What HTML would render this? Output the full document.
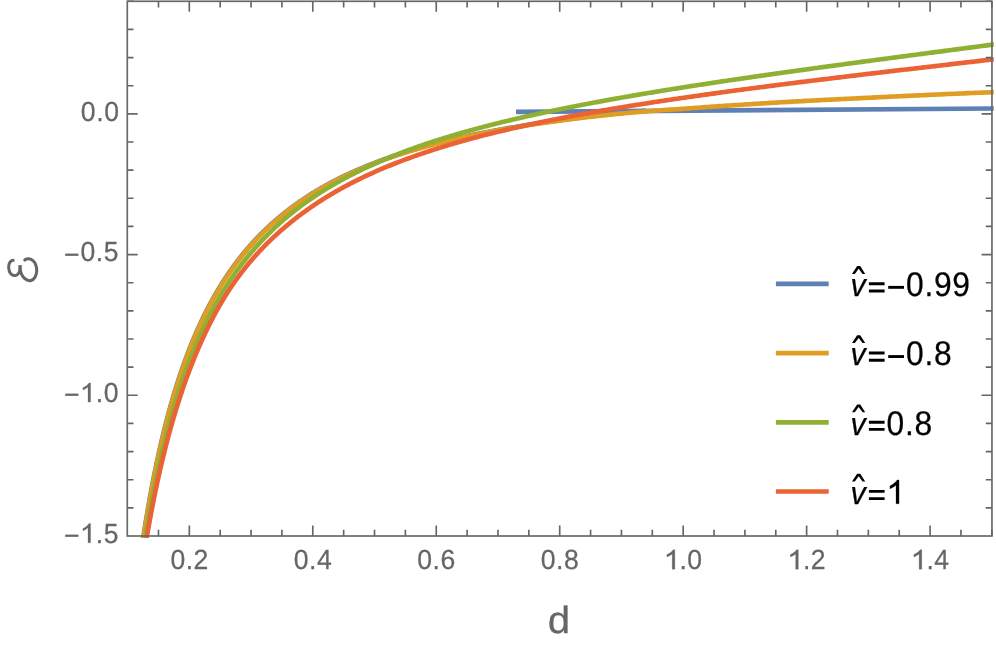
<!DOCTYPE html>
<html><head><meta charset="utf-8"><title>plot</title>
<style>
html,body{margin:0;padding:0;background:#fff;}
body{width:996px;height:648px;overflow:hidden;}
svg{display:block;}
text{font-family:"Liberation Sans",sans-serif;text-rendering:geometricPrecision;}
</style></head><body>
<svg width="996" height="648" viewBox="0 0 996 648">
<rect width="996" height="648" fill="#fff"/>
<clipPath id="cp"><rect x="100" y="-5" width="893.7" height="542.9"/></clipPath>
<g fill="none" stroke-width="4.65" stroke-linecap="butt" stroke-linejoin="round" clip-path="url(#cp)">
<path stroke="#5e81b5" d="M142.12,545.00 L142.34,543.55 L142.58,541.98 L142.81,540.41 L143.05,538.85 L143.29,537.30 L143.53,535.75 L143.77,534.21 L144.01,532.67 L144.25,531.13 L144.49,529.60 L144.73,528.08 L144.98,526.55 L145.22,525.04 L145.47,523.53 L145.71,522.02 L145.96,520.52 L146.21,519.02 L146.45,517.52 L146.70,516.03 L146.95,514.55 L147.20,513.07 L147.45,511.59 L147.70,510.12 L147.96,508.66 L148.21,507.20 L148.46,505.74 L148.72,504.29 L148.97,502.84 L149.23,501.39 L149.49,499.95 L149.74,498.52 L150.00,497.09 L150.26,495.66 L150.52,494.24 L150.78,492.82 L151.05,491.41 L151.31,490.00 L151.57,488.59 L151.84,487.19 L152.10,485.80 L152.37,484.40 L152.63,483.02 L152.90,481.63 L153.17,480.25 L153.44,478.88 L153.71,477.51 L153.98,476.14 L154.25,474.78 L154.53,473.42 L154.80,472.07 L155.07,470.72 L155.35,469.37 L155.62,468.03 L155.90,466.69 L156.18,465.36 L156.46,464.03 L156.74,462.71 L157.02,461.39 L157.30,460.07 L157.58,458.76 L157.86,457.45 L158.15,456.14 L158.43,454.84 L158.72,453.54 L159.00,452.25 L159.29,450.96 L159.58,449.68 L159.87,448.40 L160.16,447.12 L160.45,445.85 L160.74,444.58 L161.03,443.31 L161.32,442.05 L161.62,440.79 L161.91,439.54 L162.21,438.29 L162.51,437.04 L162.81,435.80 L163.10,434.56 L163.40,433.33 L163.70,432.10 L164.01,430.87 L164.31,429.65 L164.61,428.43 L164.92,427.21 L165.22,426.00 L165.53,424.79 L165.84,423.59 L166.14,422.39 L166.45,421.19 L166.76,420.00 L167.07,418.81 L167.39,417.62 L167.70,416.44 L168.01,415.26 L168.33,414.09 L168.64,412.92 L168.96,411.75 L169.28,410.59 L169.60,409.43 L169.92,408.27 L170.24,407.12 L170.56,405.97 L170.88,404.82 L171.20,403.68 L171.53,402.54 L171.86,401.40 L172.18,400.27 L172.51,399.14 L172.84,398.02 L173.17,396.90 L173.50,395.78 L173.83,394.66 L174.16,393.55 L174.50,392.44 L174.83,391.34 L175.17,390.24 L175.50,389.14 L175.84,388.05 L176.18,386.96 L176.52,385.87 L176.86,384.79 L177.20,383.71 L177.55,382.63 L177.89,381.55 L178.24,380.48 L178.58,379.42 L178.93,378.35 L179.28,377.29 L179.63,376.24 L179.98,375.18 L180.33,374.13 L180.68,373.08 L181.04,372.04 L181.39,371.00 L181.75,369.96 L182.10,368.93 L182.46,367.90 L182.82,366.87 L183.18,365.84 L183.54,364.82 L183.91,363.80 L184.27,362.79 L184.64,361.78 L185.00,360.77 L185.37,359.76 L185.74,358.76 L186.11,357.76 L186.48,356.76 L186.85,355.77 L187.22,354.78 L187.59,353.79 L187.97,352.81 L188.35,351.83 L188.72,350.85 L189.10,349.87 L189.48,348.90 L189.86,347.93 L190.24,346.97 L190.63,346.01 L191.01,345.05 L191.40,344.09 L191.78,343.14 L192.17,342.18 L192.56,341.24 L192.95,340.29 L193.34,339.35 L193.74,338.41 L194.13,337.48 L194.52,336.54 L194.92,335.61 L195.32,334.69 L195.72,333.76 L196.12,332.84 L196.52,331.92 L196.92,331.01 L197.33,330.09 L197.73,329.18 L198.14,328.28 L198.54,327.37 L198.95,326.47 L199.36,325.57 L199.77,324.68 L200.19,323.78 L200.60,322.89 L201.01,322.01 L201.43,321.12 L201.85,320.24 L202.27,319.36 L202.69,318.49 L203.11,317.61 L203.53,316.74 L203.96,315.87 L204.38,315.01 L204.81,314.15 L205.24,313.29 L205.66,312.43 L206.10,311.57 L206.53,310.72 L206.96,309.87 L207.40,309.03 L207.83,308.18 L208.27,307.34 L208.71,306.51 L209.15,305.67 L209.59,304.84 L210.03,304.01 L210.47,303.18 L210.92,302.35 L211.37,301.53 L211.82,300.71 L212.26,299.89 L212.72,299.08 L213.17,298.27 L213.62,297.46 L214.08,296.65 L214.53,295.85 L214.99,295.04 L215.45,294.24 L215.91,293.45 L216.37,292.65 L216.84,291.86 L217.30,291.07 L217.77,290.29 L218.24,289.50 L218.70,288.72 L219.18,287.94 L219.65,287.16 L220.12,286.39 L220.60,285.62 L221.07,284.85 L221.55,284.08 L222.03,283.32 L222.51,282.55 L222.99,281.79 L223.48,281.04 L223.96,280.28 L224.45,279.53 L224.94,278.78 L225.43,278.03 L225.92,277.29 L226.41,276.54 L226.91,275.80 L227.40,275.07 L227.90,274.33 L228.40,273.60 L228.90,272.87 L229.40,272.14 L229.90,271.41 L230.41,270.69 L230.92,269.96 L231.42,269.24 L231.93,268.53 L232.44,267.81 L232.96,267.10 L233.47,266.39 L233.99,265.68 L234.51,264.98 L235.02,264.27 L235.55,263.57 L236.07,262.87 L236.59,262.17 L237.12,261.48 L237.65,260.79 L238.17,260.10 L238.70,259.41 L239.24,258.72 L239.77,258.04 L240.31,257.36 L240.84,256.68 L241.38,256.00 L241.92,255.33 L242.46,254.66 L243.01,253.99 L243.55,253.32 L244.10,252.65 L244.65,251.99 L245.20,251.33 L245.75,250.67 L246.31,250.01 L246.86,249.35 L247.42,248.70 L247.98,248.05 L248.54,247.40 L249.10,246.75 L249.66,246.11 L250.23,245.46 L250.80,244.82 L251.37,244.19 L251.94,243.55 L252.51,242.91 L253.08,242.28 L253.66,241.65 L254.24,241.02 L254.82,240.40 L255.40,239.77 L255.98,239.15 L256.57,238.53 L257.16,237.91 L257.75,237.30 L258.34,236.68 L258.93,236.07 L259.52,235.46 L260.12,234.85 L260.72,234.24 L261.32,233.64 L261.92,233.04 L262.52,232.44 L263.13,231.84 L263.73,231.24 L264.34,230.65 L264.95,230.06 L265.57,229.47 L266.18,228.88 L266.80,228.29 L267.42,227.70 L268.04,227.12 L268.66,226.54 L269.28,225.96 L269.91,225.38 L270.54,224.81 L271.17,224.24 L271.80,223.66 L272.43,223.09 L273.07,222.53 L273.71,221.96 L274.35,221.40 L274.99,220.83 L275.63,220.27 L276.28,219.72 L276.93,219.16 L277.58,218.60 L278.23,218.05 L278.88,217.50 L279.54,216.95 L280.19,216.40 L280.85,215.86 L281.51,215.31 L282.18,214.77 L282.84,214.23 L283.51,213.69 L284.18,213.15 L284.85,212.62 L285.53,212.09 L286.20,211.55 L286.88,211.03 L287.56,210.50 L288.24,209.97 L288.93,209.45 L289.62,208.92 L290.30,208.40 L290.99,207.88 L291.69,207.37 L292.38,206.85 L293.08,206.34 L293.78,205.82 L294.48,205.31 L295.18,204.80 L295.89,204.30 L296.60,203.79 L297.31,203.29 L298.02,202.78 L298.73,202.28 L299.45,201.78 L300.17,201.29 L300.89,200.79 L301.61,200.30 L302.34,199.81 L303.07,199.32 L303.80,198.83 L304.53,198.34 L305.26,197.85 L306.00,197.37 L306.74,196.89 L307.48,196.41 L308.22,195.93 L308.97,195.45 L309.72,194.97 L310.47,194.50 L311.22,194.03 L311.98,193.56 L312.73,193.09 L313.49,192.62 L314.26,192.15 L315.02,191.69 L315.79,191.22 L316.56,190.76 L317.33,190.30 L318.10,189.84 L318.88,189.39 L319.66,188.93 L320.44,188.48 L321.22,188.02 L322.01,187.57 L322.79,187.12 L323.58,186.68 L324.38,186.23 L325.17,185.78 L325.97,185.34 L326.77,184.90 L327.57,184.46 L328.38,184.02 L329.19,183.58 L330.00,183.15 L330.81,182.71 L331.62,182.28 L332.44,181.85 L333.26,181.42 L334.09,180.99 L334.91,180.56 L335.74,180.14 L336.57,179.71 L337.40,179.29 L338.24,178.87 L339.08,178.45 L339.92,178.03 L340.76,177.62 L341.61,177.20 L342.45,176.79 L343.30,176.38 L344.16,175.96 L345.01,175.55 L345.87,175.15 L346.73,174.74 L347.60,174.33 L348.47,173.93 L349.34,173.53 L350.21,173.13 L351.08,172.73 L351.96,172.33 L352.84,171.93 L353.72,171.54 L354.61,171.14 L355.50,170.75 L356.39,170.36 L357.28,169.97 L358.18,169.58 L359.08,169.19 L359.98,168.81 L360.88,168.42 L361.79,168.04 L362.70,167.66 L363.62,167.27 L364.53,166.90 L365.45,166.52 L366.37,166.14 L367.30,165.77 L368.22,165.39 L369.16,165.02 L370.09,164.65 L371.02,164.28 L371.96,163.91 L372.90,163.54 L373.85,163.17 L374.80,162.81 L375.75,162.45 L376.70,162.08 L377.66,161.72 L378.62,161.36 L379.58,161.00 L380.54,160.65 L381.51,160.29 L382.48,159.94 L383.46,159.58 L384.43,159.23 L385.41,158.88 L386.40,158.53 L387.38,158.18 L388.37,157.84 L389.36,157.49 L390.36,157.14 L391.36,156.80 L392.36,156.46 L393.36,156.12 L394.37,155.78 L395.38,155.44 L396.39,155.10 L397.41,154.77 L398.43,154.43 L399.45,154.10 L400.48,153.76 L401.51,153.43 L402.54,153.10 L403.58,152.77 L404.62,152.45 L405.66,152.12 L406.70,151.79 L407.75,151.47 L408.80,151.15 L409.86,150.83 L410.92,150.51 L411.98,150.19 L413.04,149.87 L414.11,149.55 L415.18,149.23 L416.26,148.92 L417.34,148.61 L418.42,148.29 L419.50,147.98 L420.59,147.67 L421.68,147.36 L422.77,147.05 L423.87,146.75 L424.97,146.44 L426.08,146.14 L427.19,145.83 L428.30,145.53 L429.41,145.23 L430.53,144.93 L431.65,144.63 L432.78,144.33 L433.91,144.04 L435.04,143.74 L436.17,143.44 L437.31,143.15 L438.46,142.86 L439.60,142.57 L440.75,142.28 L441.90,141.99 L443.06,141.70 L444.22,141.41 L445.39,141.13 L446.55,140.84 L447.72,140.56 L448.90,140.27 L450.08,139.99 L451.26,139.71 L452.44,139.43 L453.63,139.15 L454.83,138.88 L456.02,138.60 L457.22,138.32 L458.43,138.05 L459.63,137.78 L460.84,137.50 L462.06,137.23 L463.28,136.96 L464.50,136.69 L465.73,136.42 L466.96,136.16 L468.19,135.89 L469.43,135.63 L470.67,135.36 L471.91,135.10 L473.16,134.84 L474.42,134.58 L475.67,134.32 L476.93,134.06 L478.20,133.80 L479.46,133.54 L480.74,133.28 L482.01,133.03 L483.29,132.77 L484.58,132.52 L485.86,132.27 L487.16,132.02 L488.45,131.77 L489.75,131.52 L491.06,131.27 L492.36,131.02 L493.68,130.78 L494.99,130.53 L496.31,130.29 L497.63,130.04 L498.96,129.80 L500.29,129.56 L501.63,129.32 L502.97,129.08 L504.32,128.84 L505.66,128.60 L507.02,128.36 L508.37,128.13 L509.73,127.89 L511.10,127.66 L512.47,127.42 L513.84,127.19 L515.22,126.96 L516.60,126.73 L517.99,126.50 L519.38,126.27 L520.77,126.04 L522.17,125.81 L523.58,125.59 L524.98,125.36 L526.40,125.14 L527.81,124.92 L529.23,124.69 L530.66,124.47 L532.09,124.25 L533.52,124.03 L534.96,123.81 L536.40,123.59 L537.85,123.38 L539.30,123.16 L540.76,122.94 L542.22,122.73 L543.68,122.52 L545.15,122.30 L546.63,122.09 L548.10,121.88 L549.59,121.67 L551.08,121.46 L552.57,121.25 L554.06,121.04 L555.57,120.84 L557.07,120.63 L558.58,120.42 L560.10,120.22 L561.62,120.02 L563.14,119.81 L564.67,119.61 L566.21,119.41 L567.74,119.21 L569.29,119.01 L570.84,118.81 L572.39,118.61 L573.95,118.42 L575.51,118.22 L577.08,118.02 L578.65,117.83 L580.23,117.64 L581.81,117.44 L583.39,117.25 L584.99,117.06 L586.58,116.87 L588.18,116.68 L589.79,116.49 L591.40,116.30 L593.02,116.11 L594.64,115.93 L596.26,115.74 L597.90,115.55 L599.53,115.37 L601.17,115.19 L602.82,115.00 L604.47,114.82 L606.13,114.64 L607.79,114.46 L609.45,114.28 L611.13,114.10 L612.80,113.92 L614.48,113.74 L616.17,113.57 L617.86,113.39 L619.56,113.22 L621.26,113.04 L622.97,112.87 L624.69,112.69 L626.40,112.52 L628.13,112.35 L629.86,112.18 L631.59,112.01 L633.33,111.84 L635.08,111.67 L636.83,111.50 L638.58,111.33 L640.34,111.17 L642.11,111.00 L643.88,110.84 L645.66,110.67"/>
<path stroke="#5e81b5" d="M516,111.9 L996,108.48"/>
<path stroke="#e19c24" d="M142.47,545.00 L142.70,543.44 L142.99,541.53 L143.28,539.63 L143.57,537.73 L143.86,535.84 L144.15,533.96 L144.45,532.08 L144.74,530.22 L145.04,528.35 L145.33,526.50 L145.63,524.65 L145.93,522.81 L146.23,520.97 L146.53,519.15 L146.84,517.33 L147.14,515.51 L147.44,513.71 L147.75,511.90 L148.06,510.11 L148.37,508.32 L148.67,506.54 L148.99,504.77 L149.30,503.00 L149.61,501.24 L149.92,499.49 L150.24,497.74 L150.56,496.00 L150.87,494.27 L151.19,492.54 L151.51,490.82 L151.83,489.10 L152.16,487.39 L152.48,485.69 L152.80,484.00 L153.13,482.31 L153.46,480.62 L153.79,478.95 L154.12,477.28 L154.45,475.61 L154.78,473.95 L155.11,472.30 L155.45,470.66 L155.78,469.02 L156.12,467.38 L156.46,465.75 L156.80,464.13 L157.14,462.52 L157.48,460.91 L157.83,459.31 L158.17,457.71 L158.52,456.12 L158.86,454.53 L159.21,452.95 L159.56,451.38 L159.91,449.81 L160.27,448.25 L160.62,446.70 L160.98,445.15 L161.33,443.60 L161.69,442.06 L162.05,440.53 L162.41,439.01 L162.77,437.48 L163.14,435.97 L163.50,434.46 L163.87,432.96 L164.24,431.46 L164.60,429.97 L164.97,428.48 L165.35,427.00 L165.72,425.52 L166.09,424.05 L166.47,422.59 L166.85,421.13 L167.23,419.67 L167.61,418.23 L167.99,416.78 L168.37,415.35 L168.76,413.91 L169.14,412.49 L169.53,411.07 L169.92,409.65 L170.31,408.24 L170.70,406.84 L171.09,405.44 L171.49,404.04 L171.88,402.65 L172.28,401.27 L172.68,399.89 L173.08,398.52 L173.48,397.15 L173.89,395.78 L174.29,394.43 L174.70,393.07 L175.11,391.72 L175.52,390.38 L175.93,389.04 L176.34,387.71 L176.75,386.38 L177.17,385.06 L177.59,383.74 L178.01,382.43 L178.43,381.12 L178.85,379.82 L179.27,378.52 L179.70,377.23 L180.12,375.94 L180.55,374.66 L180.98,373.38 L181.42,372.11 L181.85,370.84 L182.28,369.58 L182.72,368.32 L183.16,367.06 L183.60,365.82 L184.04,364.57 L184.48,363.33 L184.93,362.10 L185.37,360.87 L185.82,359.64 L186.27,358.42 L186.72,357.20 L187.18,355.99 L187.63,354.78 L188.09,353.58 L188.55,352.38 L189.01,351.19 L189.47,350.00 L189.93,348.82 L190.40,347.64 L190.87,346.46 L191.33,345.29 L191.80,344.12 L192.28,342.96 L192.75,341.80 L193.23,340.65 L193.70,339.50 L194.18,338.36 L194.67,337.22 L195.15,336.08 L195.63,334.95 L196.12,333.82 L196.61,332.70 L197.10,331.58 L197.59,330.47 L198.09,329.36 L198.58,328.25 L199.08,327.15 L199.58,326.06 L200.08,324.96 L200.58,323.87 L201.09,322.79 L201.60,321.71 L202.10,320.63 L202.62,319.56 L203.13,318.49 L203.64,317.43 L204.16,316.37 L204.68,315.31 L205.20,314.26 L205.72,313.21 L206.25,312.17 L206.77,311.13 L207.30,310.10 L207.83,309.06 L208.36,308.04 L208.90,307.01 L209.43,305.99 L209.97,304.98 L210.51,303.96 L211.06,302.96 L211.60,301.95 L212.15,300.95 L212.70,299.96 L213.25,298.96 L213.80,297.97 L214.35,296.99 L214.91,296.01 L215.47,295.03 L216.03,294.06 L216.59,293.09 L217.16,292.12 L217.73,291.16 L218.30,290.20 L218.87,289.25 L219.44,288.29 L220.02,287.35 L220.60,286.40 L221.18,285.46 L221.76,284.53 L222.34,283.59 L222.93,282.66 L223.52,281.74 L224.11,280.82 L224.70,279.90 L225.30,278.98 L225.90,278.07 L226.50,277.16 L227.10,276.26 L227.71,275.36 L228.31,274.46 L228.92,273.57 L229.53,272.68 L230.15,271.79 L230.76,270.91 L231.38,270.03 L232.00,269.15 L232.63,268.28 L233.25,267.41 L233.88,266.54 L234.51,265.68 L235.14,264.82 L235.78,263.96 L236.41,263.11 L237.05,262.26 L237.70,261.42 L238.34,260.57 L238.99,259.73 L239.64,258.90 L240.29,258.06 L240.94,257.23 L241.60,256.41 L242.26,255.58 L242.92,254.76 L243.58,253.95 L244.25,253.13 L244.92,252.32 L245.59,251.52 L246.26,250.71 L246.94,249.91 L247.62,249.11 L248.30,248.32 L248.99,247.53 L249.67,246.74 L250.36,245.96 L251.05,245.17 L251.75,244.39 L252.45,243.62 L253.15,242.85 L253.85,242.08 L254.55,241.31 L255.26,240.55 L255.97,239.78 L256.68,239.03 L257.40,238.27 L258.12,237.52 L258.84,236.77 L259.56,236.03 L260.29,235.28 L261.02,234.54 L261.75,233.81 L262.48,233.07 L263.22,232.34 L263.96,231.61 L264.70,230.89 L265.45,230.17 L266.20,229.45 L266.95,228.73 L267.70,228.02 L268.46,227.31 L269.22,226.60 L269.98,225.89 L270.75,225.19 L271.52,224.49 L272.29,223.79 L273.06,223.10 L273.84,222.41 L274.62,221.72 L275.40,221.03 L276.19,220.35 L276.98,219.67 L277.77,218.99 L278.56,218.32 L279.36,217.65 L280.16,216.98 L280.97,216.31 L281.77,215.65 L282.58,214.99 L283.40,214.33 L284.21,213.67 L285.03,213.02 L285.85,212.37 L286.68,211.72 L287.51,211.07 L288.34,210.43 L289.17,209.79 L290.01,209.15 L290.85,208.52 L291.69,207.88 L292.54,207.25 L293.39,206.63 L294.24,206.00 L295.10,205.38 L295.96,204.76 L296.82,204.14 L297.69,203.53 L298.56,202.92 L299.43,202.31 L300.31,201.70 L301.19,201.09 L302.07,200.49 L302.96,199.89 L303.84,199.30 L304.74,198.70 L305.63,198.11 L306.53,197.52 L307.44,196.93 L308.34,196.34 L309.25,195.76 L310.16,195.18 L311.08,194.60 L312.00,194.03 L312.92,193.45 L313.85,192.88 L314.78,192.31 L315.71,191.75 L316.65,191.18 L317.59,190.62 L318.53,190.06 L319.48,189.51 L320.43,188.95 L321.39,188.40 L322.35,187.85 L323.31,187.30 L324.27,186.76 L325.24,186.21 L326.22,185.67 L327.19,185.13 L328.17,184.60 L329.16,184.06 L330.14,183.53 L331.13,183.00 L332.13,182.47 L333.13,181.95 L334.13,181.42 L335.14,180.90 L336.15,180.38 L337.16,179.87 L338.18,179.35 L339.20,178.84 L340.22,178.33 L341.25,177.82 L342.29,177.32 L343.32,176.81 L344.36,176.31 L345.41,175.81 L346.46,175.31 L347.51,174.82 L348.56,174.32 L349.62,173.83 L350.69,173.34 L351.76,172.86 L352.83,172.37 L353.91,171.89 L354.99,171.41 L356.07,170.93 L357.16,170.45 L358.25,169.98 L359.35,169.50 L360.45,169.03 L361.55,168.56 L362.66,168.10 L363.78,167.63 L364.89,167.17 L366.01,166.71 L367.14,166.25 L368.27,165.79 L369.40,165.34 L370.54,164.89 L371.69,164.44 L372.83,163.99 L373.98,163.54 L375.14,163.09 L376.30,162.65 L377.46,162.21 L378.63,161.77 L379.81,161.33 L380.98,160.90 L382.16,160.46 L383.35,160.03 L384.54,159.60 L385.74,159.17 L386.94,158.75 L388.14,158.32 L389.35,157.90 L390.56,157.48 L391.78,157.06 L393.00,156.64 L394.23,156.23 L395.46,155.81 L396.70,155.40 L397.94,154.99 L399.18,154.58 L400.43,154.18 L401.69,153.77 L402.95,153.37 L404.21,152.97 L405.48,152.57 L406.75,152.17 L408.03,151.78 L409.32,151.38 L410.60,150.99 L411.90,150.60 L413.20,150.21 L414.50,149.82 L415.81,149.44 L417.12,149.06 L418.44,148.67 L419.76,148.29 L421.09,147.92 L422.42,147.54 L423.75,147.16 L425.10,146.79 L426.44,146.42 L427.80,146.05 L429.15,145.68 L430.52,145.31 L431.88,144.95 L433.26,144.58 L434.63,144.22 L436.02,143.86 L437.41,143.50 L438.80,143.15 L440.20,142.79 L441.60,142.44 L443.01,142.09 L444.43,141.74 L445.85,141.39 L447.27,141.04 L448.70,140.69 L450.14,140.35 L451.58,140.01 L453.02,139.67 L454.48,139.33 L455.93,138.99 L457.40,138.65 L458.87,138.32 L460.34,137.98 L461.82,137.65 L463.30,137.32 L464.79,136.99 L466.29,136.67 L467.79,136.34 L469.30,136.02 L470.81,135.69 L472.33,135.37 L473.86,135.05 L475.39,134.74 L476.92,134.42 L478.46,134.10 L480.01,133.79 L481.57,133.48 L483.12,133.17 L484.69,132.86 L486.26,132.55 L487.84,132.24 L489.42,131.94 L491.01,131.64 L492.60,131.33 L494.20,131.03 L495.81,130.73 L497.42,130.44 L499.04,130.14 L500.66,129.84 L502.30,129.55 L503.93,129.26 L505.58,128.97 L507.22,128.68 L508.88,128.39 L510.54,128.10 L512.21,127.82 L513.88,127.53 L515.56,127.25 L517.25,126.97 L518.94,126.69 L520.64,126.41 L522.35,126.13 L524.06,125.86 L525.78,125.58 L527.50,125.31 L529.23,125.04 L530.97,124.77 L532.72,124.50 L534.47,124.23 L536.23,123.96 L537.99,123.70 L539.76,123.44 L541.54,123.17 L543.32,122.91 L545.11,122.65 L546.91,122.39 L548.71,122.14 L550.52,121.89 L552.34,121.66 L554.17,121.44 L556.00,121.21 L557.84,120.98 L559.68,120.74 L561.53,120.49 L563.39,120.24 L565.26,119.99 L567.13,119.74 L569.01,119.49 L570.90,119.25 L572.79,119.00 L574.69,118.75 L576.60,118.50 L578.52,118.26 L580.44,118.01 L582.37,117.77 L584.31,117.53 L586.25,117.30 L588.20,117.06 L590.16,116.83 L592.13,116.60 L594.10,116.38 L596.08,116.16 L598.07,115.94 L600.07,115.72 L602.07,115.51 L604.08,115.30 L606.10,115.08 L608.13,114.87 L610.16,114.67 L612.20,114.46 L614.25,114.26 L616.31,114.06 L618.37,113.86 L620.45,113.66 L622.53,113.45 L624.61,113.25 L626.71,113.05 L628.81,112.86 L630.92,112.66 L633.04,112.46 L635.17,112.27 L637.31,112.09 L639.45,111.90 L641.60,111.73 L643.76,111.55 L645.93,111.38 L648.10,111.21 L650.29,111.04 L652.48,110.87 L654.68,110.71 L656.89,110.54 L659.10,110.37 L661.33,110.20 L663.56,110.04 L665.80,109.88 L668.05,109.73 L670.31,109.59 L672.58,109.45 L674.85,109.33 L677.14,109.20 L679.43,109.06 L681.73,108.91 L684.04,108.75 L686.36,108.57 L688.69,108.40 L691.02,108.22 L693.37,108.05 L695.72,107.88 L698.08,107.71 L700.46,107.54 L702.84,107.37 L705.22,107.19 L707.62,107.03 L710.03,106.86 L712.45,106.69 L714.87,106.52 L717.30,106.35 L719.75,106.18 L722.20,106.02 L724.66,105.85 L727.13,105.69 L729.61,105.52 L732.10,105.36 L734.60,105.19 L737.11,105.03 L739.63,104.87 L742.15,104.70 L744.69,104.54 L747.24,104.38 L749.79,104.21 L752.36,104.05 L754.93,103.89 L757.52,103.73 L760.11,103.57 L762.71,103.40 L765.33,103.24 L767.95,103.08 L770.58,102.92 L773.23,102.77 L775.88,102.61 L778.54,102.45 L781.21,102.29 L783.90,102.14 L786.59,101.98 L789.29,101.83 L792.01,101.67 L794.73,101.52 L797.46,101.37 L800.21,101.22 L802.96,101.07 L805.73,100.92 L808.50,100.77 L811.29,100.62 L814.08,100.47 L816.89,100.33 L819.71,100.18 L822.53,100.03 L825.37,99.89 L828.22,99.74 L831.08,99.60 L833.95,99.45 L836.83,99.31 L839.72,99.17 L842.62,99.02 L845.54,98.88 L848.46,98.74 L851.40,98.59 L854.34,98.45 L857.30,98.31 L860.27,98.16 L863.25,98.02 L866.24,97.88 L869.24,97.73 L872.25,97.58 L875.28,97.44 L878.31,97.29 L881.36,97.14 L884.42,96.99 L887.49,96.84 L890.57,96.69 L893.66,96.54 L896.77,96.39 L899.88,96.24 L903.01,96.09 L906.15,95.94 L909.30,95.79 L912.47,95.65 L915.64,95.50 L918.83,95.35 L922.03,95.21 L925.24,95.06 L928.46,94.92 L931.70,94.77 L934.94,94.63 L938.20,94.48 L941.48,94.34 L944.76,94.19 L948.06,94.05 L951.36,93.90 L954.69,93.76 L958.02,93.62 L961.37,93.47 L964.72,93.33 L968.10,93.19 L971.48,93.04 L974.88,92.90 L978.28,92.76 L981.71,92.62 L985.14,92.48 L988.59,92.34 L992.05,92.20 L995.52,92.06"/>
<path stroke="#8fb032" d="M144.24,545.00 L144.45,543.66 L144.74,541.80 L145.04,539.95 L145.33,538.10 L145.63,536.27 L145.93,534.43 L146.23,532.61 L146.53,530.79 L146.84,528.97 L147.14,527.16 L147.44,525.36 L147.75,523.57 L148.06,521.78 L148.37,520.00 L148.67,518.22 L148.99,516.46 L149.30,514.69 L149.61,512.94 L149.92,511.19 L150.24,509.44 L150.56,507.70 L150.87,505.97 L151.19,504.25 L151.51,502.53 L151.83,500.81 L152.16,499.11 L152.48,497.41 L152.80,495.71 L153.13,494.02 L153.46,492.34 L153.79,490.66 L154.12,488.99 L154.45,487.32 L154.78,485.66 L155.11,484.01 L155.45,482.36 L155.78,480.72 L156.12,479.09 L156.46,477.46 L156.80,475.83 L157.14,474.21 L157.48,472.60 L157.83,470.99 L158.17,469.39 L158.52,467.80 L158.86,466.21 L159.21,464.62 L159.56,463.05 L159.91,461.47 L160.27,459.91 L160.62,458.34 L160.98,456.79 L161.33,455.24 L161.69,453.69 L162.05,452.15 L162.41,450.62 L162.77,449.09 L163.14,447.57 L163.50,446.05 L163.87,444.54 L164.24,443.03 L164.60,441.53 L164.97,440.04 L165.35,438.55 L165.72,437.06 L166.09,435.58 L166.47,434.11 L166.85,432.64 L167.23,431.17 L167.61,429.71 L167.99,428.26 L168.37,426.81 L168.76,425.37 L169.14,423.93 L169.53,422.50 L169.92,421.07 L170.31,419.65 L170.70,418.23 L171.09,416.82 L171.49,415.41 L171.88,414.01 L172.28,412.61 L172.68,411.22 L173.08,409.83 L173.48,408.45 L173.89,407.07 L174.29,405.70 L174.70,404.33 L175.11,402.97 L175.52,401.61 L175.93,400.26 L176.34,398.91 L176.75,397.57 L177.17,396.23 L177.59,394.90 L178.01,393.57 L178.43,392.24 L178.85,390.92 L179.27,389.61 L179.70,388.30 L180.12,386.99 L180.55,385.69 L180.98,384.40 L181.42,383.11 L181.85,381.82 L182.28,380.54 L182.72,379.26 L183.16,377.99 L183.60,376.72 L184.04,375.46 L184.48,374.20 L184.93,372.95 L185.37,371.70 L185.82,370.45 L186.27,369.21 L186.72,367.97 L187.18,366.74 L187.63,365.51 L188.09,364.29 L188.55,363.07 L189.01,361.86 L189.47,360.65 L189.93,359.44 L190.40,358.24 L190.87,357.04 L191.33,355.85 L191.80,354.66 L192.28,353.48 L192.75,352.30 L193.23,351.12 L193.70,349.95 L194.18,348.79 L194.67,347.62 L195.15,346.46 L195.63,345.31 L196.12,344.16 L196.61,343.01 L197.10,341.87 L197.59,340.73 L198.09,339.60 L198.58,338.47 L199.08,337.34 L199.58,336.22 L200.08,335.11 L200.58,333.99 L201.09,332.88 L201.60,331.78 L202.10,330.68 L202.62,329.58 L203.13,328.48 L203.64,327.39 L204.16,326.31 L204.68,325.23 L205.20,324.15 L205.72,323.08 L206.25,322.00 L206.77,320.94 L207.30,319.88 L207.83,318.82 L208.36,317.76 L208.90,316.71 L209.43,315.66 L209.97,314.62 L210.51,313.58 L211.06,312.55 L211.60,311.51 L212.15,310.48 L212.70,309.46 L213.25,308.44 L213.80,307.42 L214.35,306.41 L214.91,305.40 L215.47,304.39 L216.03,303.39 L216.59,302.39 L217.16,301.39 L217.73,300.40 L218.30,299.41 L218.87,298.43 L219.44,297.45 L220.02,296.47 L220.60,295.49 L221.18,294.52 L221.76,293.56 L222.34,292.59 L222.93,291.63 L223.52,290.67 L224.11,289.72 L224.70,288.77 L225.30,287.82 L225.90,286.88 L226.50,285.94 L227.10,285.01 L227.71,284.07 L228.31,283.14 L228.92,282.22 L229.53,281.29 L230.15,280.37 L230.76,279.46 L231.38,278.54 L232.00,277.63 L232.63,276.73 L233.25,275.82 L233.88,274.92 L234.51,274.03 L235.14,273.13 L235.78,272.24 L236.41,271.36 L237.05,270.47 L237.70,269.59 L238.34,268.71 L238.99,267.84 L239.64,266.97 L240.29,266.10 L240.94,265.23 L241.60,264.37 L242.26,263.51 L242.92,262.66 L243.58,261.80 L244.25,260.95 L244.92,260.11 L245.59,259.26 L246.26,258.42 L246.94,257.58 L247.62,256.75 L248.30,255.92 L248.99,255.09 L249.67,254.26 L250.36,253.44 L251.05,252.62 L251.75,251.80 L252.45,250.99 L253.15,250.18 L253.85,249.37 L254.55,248.56 L255.26,247.76 L255.97,246.96 L256.68,246.17 L257.40,245.37 L258.12,244.58 L258.84,243.79 L259.56,243.01 L260.29,242.22 L261.02,241.44 L261.75,240.67 L262.48,239.89 L263.22,239.12 L263.96,238.35 L264.70,237.59 L265.45,236.82 L266.20,236.06 L266.95,235.30 L267.70,234.55 L268.46,233.80 L269.22,233.05 L269.98,232.30 L270.75,231.55 L271.52,230.81 L272.29,230.07 L273.06,229.33 L273.84,228.60 L274.62,227.87 L275.40,227.14 L276.19,226.41 L276.98,225.69 L277.77,224.97 L278.56,224.25 L279.36,223.53 L280.16,222.82 L280.97,222.11 L281.77,221.40 L282.58,220.69 L283.40,219.99 L284.21,219.29 L285.03,218.59 L285.85,217.89 L286.68,217.20 L287.51,216.51 L288.34,215.82 L289.17,215.13 L290.01,214.45 L290.85,213.76 L291.69,213.08 L292.54,212.41 L293.39,211.73 L294.24,211.06 L295.10,210.39 L295.96,209.72 L296.82,209.06 L297.69,208.39 L298.56,207.73 L299.43,207.07 L300.31,206.42 L301.19,205.76 L302.07,205.11 L302.96,204.46 L303.84,203.81 L304.74,203.17 L305.63,202.53 L306.53,201.89 L307.44,201.25 L308.34,200.61 L309.25,199.98 L310.16,199.35 L311.08,198.72 L312.00,198.09 L312.92,197.46 L313.85,196.84 L314.78,196.22 L315.71,195.60 L316.65,194.98 L317.59,194.37 L318.53,193.76 L319.48,193.14 L320.43,192.54 L321.39,191.93 L322.35,191.33 L323.31,190.72 L324.27,190.12 L325.24,189.52 L326.22,188.93 L327.19,188.33 L328.17,187.74 L329.16,187.15 L330.14,186.56 L331.13,185.98 L332.13,185.39 L333.13,184.81 L334.13,184.23 L335.14,183.65 L336.15,183.07 L337.16,182.50 L338.18,181.93 L339.20,181.36 L340.22,180.79 L341.25,180.22 L342.29,179.65 L343.32,179.09 L344.36,178.53 L345.41,177.97 L346.46,177.41 L347.51,176.86 L348.56,176.30 L349.62,175.75 L350.69,175.20 L351.76,174.65 L352.83,174.10 L353.91,173.56 L354.99,173.02 L356.07,172.47 L357.16,171.93 L358.25,171.40 L359.35,170.86 L360.45,170.32 L361.55,169.79 L362.66,169.26 L363.78,168.73 L364.89,168.20 L366.01,167.68 L367.14,167.15 L368.27,166.63 L369.40,166.11 L370.54,165.59 L371.69,165.07 L372.83,164.55 L373.98,164.04 L375.14,163.53 L376.30,163.02 L377.46,162.51 L378.63,162.00 L379.81,161.49 L380.98,160.99 L382.16,160.48 L383.35,159.98 L384.54,159.48 L385.74,158.98 L386.94,158.48 L388.14,157.99 L389.35,157.49 L390.56,157.00 L391.78,156.51 L393.00,156.02 L394.23,155.53 L395.46,155.04 L396.70,154.56 L397.94,154.08 L399.18,153.59 L400.43,153.11 L401.69,152.63 L402.95,152.15 L404.21,151.68 L405.48,151.20 L406.75,150.73 L408.03,150.26 L409.32,149.78 L410.60,149.31 L411.90,148.85 L413.20,148.38 L414.50,147.91 L415.81,147.45 L417.12,146.99 L418.44,146.52 L419.76,146.06 L421.09,145.60 L422.42,145.15 L423.75,144.69 L425.10,144.23 L426.44,143.78 L427.80,143.33 L429.15,142.88 L430.52,142.42 L431.88,141.98 L433.26,141.53 L434.63,141.08 L436.02,140.64 L437.41,140.19 L438.80,139.75 L440.20,139.31 L441.60,138.87 L443.01,138.43 L444.43,137.99 L445.85,137.55 L447.27,137.11 L448.70,136.68 L450.14,136.25 L451.58,135.81 L453.02,135.38 L454.48,134.95 L455.93,134.52 L457.40,134.09 L458.87,133.67 L460.34,133.24 L461.82,132.82 L463.30,132.39 L464.79,131.97 L466.29,131.55 L467.79,131.13 L469.30,130.71 L470.81,130.29 L472.33,129.87 L473.86,129.45 L475.39,129.04 L476.92,128.62 L478.46,128.21 L480.01,127.79 L481.57,127.38 L483.12,126.97 L484.69,126.56 L486.26,126.15 L487.84,125.74 L489.42,125.34 L491.01,124.93 L492.60,124.52 L494.20,124.12 L495.81,123.71 L497.42,123.31 L499.04,122.91 L500.66,122.51 L502.30,122.11 L503.93,121.71 L505.58,121.31 L507.22,120.91 L508.88,120.51 L510.54,120.12 L512.21,119.72 L513.88,119.33 L515.56,118.93 L517.25,118.54 L518.94,118.15 L520.64,117.75 L522.35,117.36 L524.06,116.97 L525.78,116.58 L527.50,116.19 L529.23,115.81 L530.97,115.42 L532.72,115.03 L534.47,114.65 L536.23,114.26 L537.99,113.87 L539.76,113.49 L541.54,113.11 L543.32,112.72 L545.11,112.34 L546.91,111.96 L548.71,111.58 L550.52,111.20 L552.34,110.82 L554.17,110.44 L556.00,110.06 L557.84,109.68 L559.68,109.30 L561.53,108.93 L563.39,108.55 L565.26,108.17 L567.13,107.80 L569.01,107.42 L570.90,107.05 L572.79,106.67 L574.69,106.30 L576.60,105.92 L578.52,105.55 L580.44,105.18 L582.37,104.81 L584.31,104.44 L586.25,104.06 L588.20,103.69 L590.16,103.32 L592.13,102.95 L594.10,102.58 L596.08,102.21 L598.07,101.84 L600.07,101.48 L602.07,101.11 L604.08,100.74 L606.10,100.37 L608.13,100.00 L610.16,99.64 L612.20,99.27 L614.25,98.90 L616.31,98.54 L618.37,98.17 L620.45,97.80 L622.53,97.44 L624.61,97.07 L626.71,96.71 L628.81,96.34 L630.92,95.98 L633.04,95.61 L635.17,95.25 L637.31,94.89 L639.45,94.52 L641.60,94.16 L643.76,93.79 L645.93,93.43 L648.10,93.07 L650.29,92.70 L652.48,92.34 L654.68,91.97 L656.89,91.61 L659.10,91.25 L661.33,90.88 L663.56,90.52 L665.80,90.16 L668.05,89.79 L670.31,89.43 L672.58,89.07 L674.85,88.70 L677.14,88.34 L679.43,87.98 L681.73,87.61 L684.04,87.25 L686.36,86.89 L688.69,86.52 L691.02,86.16 L693.37,85.80 L695.72,85.43 L698.08,85.07 L700.46,84.70 L702.84,84.34 L705.22,83.97 L707.62,83.61 L710.03,83.24 L712.45,82.88 L714.87,82.51 L717.30,82.15 L719.75,81.78 L722.20,81.41 L724.66,81.05 L727.13,80.68 L729.61,80.31 L732.10,79.95 L734.60,79.58 L737.11,79.21 L739.63,78.84 L742.15,78.47 L744.69,78.10 L747.24,77.73 L749.79,77.36 L752.36,76.99 L754.93,76.62 L757.52,76.25 L760.11,75.88 L762.71,75.51 L765.33,75.13 L767.95,74.76 L770.58,74.39 L773.23,74.01 L775.88,73.64 L778.54,73.26 L781.21,72.88 L783.90,72.51 L786.59,72.13 L789.29,71.75 L792.01,71.37 L794.73,71.00 L797.46,70.62 L800.21,70.23 L802.96,69.85 L805.73,69.47 L808.50,69.09 L811.29,68.71 L814.08,68.32 L816.89,67.94 L819.71,67.55 L822.53,67.17 L825.37,66.78 L828.22,66.39 L831.08,66.00 L833.95,65.61 L836.83,65.22 L839.72,64.83 L842.62,64.44 L845.54,64.05 L848.46,63.65 L851.40,63.26 L854.34,62.86 L857.30,62.46 L860.27,62.07 L863.25,61.67 L866.24,61.27 L869.24,60.87 L872.25,60.46 L875.28,60.06 L878.31,59.66 L881.36,59.25 L884.42,58.85 L887.49,58.44 L890.57,58.03 L893.66,57.62 L896.77,57.21 L899.88,56.80 L903.01,56.38 L906.15,55.97 L909.30,55.55 L912.47,55.14 L915.64,54.72 L918.83,54.30 L922.03,53.88 L925.24,53.45 L928.46,53.03 L931.70,52.60 L934.94,52.18 L938.20,51.75 L941.48,51.32 L944.76,50.89 L948.06,50.46 L951.36,50.02 L954.69,49.59 L958.02,49.15 L961.37,48.71 L964.72,48.27 L968.10,47.83 L971.48,47.39 L974.88,46.94 L978.28,46.49 L981.71,46.05 L985.14,45.60 L988.59,45.14 L992.05,44.69 L995.52,44.24"/>
<path stroke="#eb6235" d="M145.44,545.00 L145.63,543.83 L145.93,542.05 L146.23,540.27 L146.53,538.50 L146.84,536.73 L147.14,534.97 L147.44,533.22 L147.75,531.47 L148.06,529.72 L148.37,527.98 L148.67,526.25 L148.99,524.53 L149.30,522.80 L149.61,521.09 L149.92,519.38 L150.24,517.67 L150.56,515.98 L150.87,514.28 L151.19,512.60 L151.51,510.91 L151.83,509.24 L152.16,507.56 L152.48,505.90 L152.80,504.24 L153.13,502.58 L153.46,500.93 L153.79,499.29 L154.12,497.65 L154.45,496.02 L154.78,494.39 L155.11,492.77 L155.45,491.15 L155.78,489.54 L156.12,487.93 L156.46,486.33 L156.80,484.73 L157.14,483.14 L157.48,481.56 L157.83,479.97 L158.17,478.40 L158.52,476.83 L158.86,475.26 L159.21,473.70 L159.56,472.15 L159.91,470.60 L160.27,469.06 L160.62,467.52 L160.98,465.98 L161.33,464.45 L161.69,462.93 L162.05,461.41 L162.41,459.90 L162.77,458.39 L163.14,456.88 L163.50,455.39 L163.87,453.89 L164.23,452.40 L164.60,450.92 L164.97,449.44 L165.34,447.97 L165.72,446.50 L166.09,445.03 L166.47,443.57 L166.84,442.12 L167.22,440.67 L167.60,439.23 L167.98,437.79 L168.37,436.35 L168.75,434.92 L169.14,433.49 L169.52,432.07 L169.91,430.66 L170.30,429.25 L170.69,427.84 L171.09,426.44 L171.48,425.04 L171.88,423.65 L172.27,422.26 L172.67,420.88 L173.07,419.50 L173.47,418.13 L173.88,416.76 L174.28,415.40 L174.69,414.04 L175.09,412.68 L175.50,411.33 L175.91,409.99 L176.33,408.64 L176.74,407.31 L177.15,405.98 L177.57,404.65 L177.99,403.32 L178.41,402.01 L178.83,400.69 L179.25,399.38 L179.67,398.08 L180.10,396.78 L180.53,395.48 L180.95,394.19 L181.38,392.90 L181.82,391.62 L182.25,390.34 L182.68,389.06 L183.12,387.79 L183.56,386.53 L183.99,385.27 L184.44,384.01 L184.88,382.76 L185.32,381.51 L185.77,380.26 L186.21,379.02 L186.66,377.79 L187.11,376.56 L187.56,375.33 L188.01,374.11 L188.47,372.89 L188.92,371.67 L189.38,370.46 L189.84,369.26 L190.30,368.05 L190.76,366.86 L191.23,365.66 L191.69,364.47 L192.16,363.29 L192.63,362.10 L193.10,360.93 L193.57,359.75 L194.04,358.58 L194.51,357.42 L194.99,356.26 L195.47,355.10 L195.95,353.95 L196.43,352.80 L196.91,351.65 L197.40,350.51 L197.88,349.37 L198.37,348.24 L198.86,347.11 L199.35,345.98 L199.84,344.86 L200.33,343.74 L200.83,342.63 L201.33,341.52 L201.83,340.41 L202.33,339.31 L202.83,338.21 L203.33,337.12 L203.84,336.03 L204.35,334.94 L204.85,333.85 L205.37,332.77 L205.88,331.70 L206.39,330.63 L206.91,329.56 L207.43,328.49 L207.95,327.43 L208.47,326.37 L208.99,325.32 L209.52,324.27 L210.05,323.22 L210.58,322.18 L211.11,321.14 L211.64,320.11 L212.18,319.08 L212.71,318.05 L213.25,317.02 L213.80,316.00 L214.34,314.98 L214.89,313.97 L215.43,312.96 L215.98,311.95 L216.54,310.95 L217.09,309.95 L217.65,308.95 L218.21,307.96 L218.77,306.97 L219.33,305.98 L219.90,305.00 L220.47,304.02 L221.04,303.05 L221.61,302.08 L222.19,301.11 L222.76,300.14 L223.34,299.18 L223.93,298.22 L224.51,297.27 L225.10,296.31 L225.69,295.37 L226.29,294.42 L226.88,293.48 L227.48,292.54 L228.08,291.60 L228.69,290.67 L229.29,289.74 L229.90,288.82 L230.52,287.90 L231.13,286.98 L231.75,286.06 L232.37,285.15 L232.99,284.24 L233.62,283.33 L234.25,282.43 L234.88,281.53 L235.52,280.64 L236.15,279.74 L236.80,278.85 L237.44,277.96 L238.09,277.08 L238.74,276.20 L239.39,275.32 L240.04,274.45 L240.70,273.58 L241.36,272.71 L242.03,271.84 L242.70,270.98 L243.37,270.12 L244.04,269.27 L244.72,268.41 L245.40,267.56 L246.08,266.71 L246.77,265.87 L247.45,265.03 L248.15,264.19 L248.84,263.36 L249.54,262.52 L250.24,261.69 L250.94,260.87 L251.65,260.04 L252.36,259.22 L253.07,258.41 L253.78,257.59 L254.50,256.78 L255.22,255.97 L255.95,255.16 L256.68,254.36 L257.41,253.56 L258.14,252.76 L258.87,251.97 L259.61,251.18 L260.35,250.39 L261.10,249.60 L261.85,248.82 L262.60,248.04 L263.35,247.26 L264.10,246.48 L264.86,245.71 L265.63,244.94 L266.39,244.17 L267.16,243.41 L267.93,242.65 L268.70,241.89 L269.48,241.13 L270.25,240.38 L271.04,239.63 L271.82,238.88 L272.61,238.13 L273.40,237.39 L274.19,236.65 L274.99,235.91 L275.78,235.18 L276.58,234.44 L277.39,233.71 L278.20,232.99 L279.00,232.26 L279.82,231.54 L280.63,230.82 L281.45,230.10 L282.27,229.39 L283.09,228.68 L283.92,227.97 L284.75,227.26 L285.58,226.56 L286.42,225.85 L287.26,225.15 L288.10,224.46 L288.94,223.76 L289.79,223.07 L290.64,222.38 L291.49,221.69 L292.34,221.01 L293.20,220.33 L294.06,219.65 L294.93,218.97 L295.79,218.29 L296.66,217.62 L297.54,216.95 L298.41,216.28 L299.29,215.62 L300.18,214.95 L301.06,214.29 L301.95,213.63 L302.84,212.98 L303.74,212.32 L304.63,211.67 L305.53,211.02 L306.44,210.37 L307.35,209.73 L308.26,209.08 L309.17,208.44 L310.09,207.81 L311.01,207.17 L311.93,206.54 L312.86,205.90 L313.79,205.27 L314.72,204.65 L315.66,204.02 L316.60,203.40 L317.54,202.78 L318.49,202.16 L319.44,201.54 L320.39,200.93 L321.35,200.32 L322.31,199.71 L323.27,199.10 L324.24,198.50 L325.21,197.89 L326.19,197.29 L327.17,196.69 L328.15,196.09 L329.13,195.50 L330.12,194.91 L331.11,194.31 L332.11,193.73 L333.11,193.14 L334.11,192.55 L335.12,191.97 L336.13,191.39 L337.15,190.81 L338.16,190.23 L339.19,189.66 L340.21,189.09 L341.24,188.52 L342.28,187.95 L343.31,187.38 L344.35,186.81 L345.40,186.25 L346.45,185.69 L347.50,185.13 L348.56,184.57 L349.62,184.02 L350.68,183.47 L351.75,182.91 L352.83,182.36 L353.90,181.82 L354.98,181.27 L356.07,180.73 L357.16,180.18 L358.25,179.64 L359.35,179.10 L360.45,178.57 L361.55,178.03 L362.66,177.50 L363.77,176.97 L364.89,176.44 L366.01,175.91 L367.14,175.38 L368.27,174.86 L369.40,174.34 L370.54,173.82 L371.68,173.30 L372.83,172.78 L373.98,172.27 L375.14,171.75 L376.30,171.24 L377.46,170.73 L378.63,170.22 L379.80,169.71 L380.98,169.21 L382.16,168.71 L383.35,168.20 L384.54,167.70 L385.74,167.20 L386.94,166.71 L388.14,166.21 L389.35,165.72 L390.56,165.23 L391.78,164.74 L393.00,164.25 L394.23,163.76 L395.46,163.27 L396.70,162.79 L397.94,162.31 L399.18,161.83 L400.43,161.35 L401.69,160.87 L402.95,160.39 L404.21,159.92 L405.48,159.44 L406.75,158.97 L408.03,158.50 L409.32,158.03 L410.60,157.57 L411.90,157.10 L413.20,156.64 L414.50,156.17 L415.81,155.71 L417.12,155.25 L418.44,154.79 L419.76,154.34 L421.09,153.88 L422.42,153.43 L423.75,152.97 L425.10,152.52 L426.44,152.07 L427.80,151.62 L429.15,151.18 L430.52,150.73 L431.88,150.28 L433.26,149.84 L434.63,149.40 L436.02,148.96 L437.41,148.52 L438.80,148.08 L440.20,147.65 L441.60,147.21 L443.01,146.78 L444.43,146.34 L445.85,145.91 L447.27,145.48 L448.70,145.05 L450.14,144.63 L451.58,144.20 L453.02,143.77 L454.48,143.35 L455.93,142.93 L457.40,142.51 L458.87,142.09 L460.34,141.67 L461.82,141.25 L463.30,140.83 L464.79,140.42 L466.29,140.00 L467.79,139.59 L469.30,139.18 L470.81,138.77 L472.33,138.36 L473.86,137.95 L475.39,137.54 L476.92,137.14 L478.46,136.73 L480.01,136.33 L481.57,135.92 L483.12,135.52 L484.69,135.12 L486.26,134.72 L487.84,134.32 L489.42,133.93 L491.01,133.53 L492.60,133.13 L494.20,132.74 L495.81,132.35 L497.42,131.95 L499.04,131.56 L500.66,131.17 L502.30,130.78 L503.93,130.39 L505.58,130.01 L507.22,129.62 L508.88,129.23 L510.54,128.85 L512.21,128.47 L513.88,128.08 L515.56,127.70 L517.25,127.32 L518.94,126.94 L520.64,126.56 L522.35,126.18 L524.06,125.81 L525.78,125.43 L527.50,125.05 L529.23,124.68 L530.97,124.31 L532.72,123.93 L534.47,123.56 L536.23,123.19 L537.99,122.82 L539.76,122.45 L541.54,122.08 L543.32,121.71 L545.11,121.34 L546.91,120.98 L548.71,120.61 L550.52,120.25 L552.34,119.88 L554.17,119.52 L556.00,119.16 L557.84,118.79 L559.68,118.43 L561.53,118.07 L563.39,117.71 L565.26,117.35 L567.13,116.99 L569.01,116.63 L570.90,116.28 L572.79,115.92 L574.69,115.56 L576.60,115.21 L578.52,114.85 L580.44,114.50 L582.37,114.15 L584.31,113.79 L586.25,113.44 L588.20,113.09 L590.16,112.74 L592.13,112.39 L594.10,112.04 L596.08,111.69 L598.07,111.34 L600.07,110.99 L602.07,110.64 L604.08,110.29 L606.10,109.94 L608.13,109.60 L610.16,109.25 L612.20,108.91 L614.25,108.56 L616.31,108.22 L618.37,107.87 L620.45,107.53 L622.53,107.18 L624.61,106.84 L626.71,106.50 L628.81,106.15 L630.92,105.81 L633.04,105.47 L635.17,105.13 L637.31,104.79 L639.45,104.45 L641.60,104.11 L643.76,103.77 L645.93,103.43 L648.10,103.09 L650.29,102.75 L652.48,102.41 L654.68,102.07 L656.89,101.73 L659.10,101.40 L661.33,101.06 L663.56,100.72 L665.80,100.38 L668.05,100.05 L670.31,99.71 L672.58,99.37 L674.85,99.04 L677.14,98.70 L679.43,98.36 L681.73,98.03 L684.04,97.69 L686.36,97.35 L688.69,97.02 L691.02,96.68 L693.37,96.35 L695.72,96.01 L698.08,95.68 L700.46,95.34 L702.84,95.00 L705.22,94.67 L707.62,94.33 L710.03,94.00 L712.45,93.66 L714.87,93.33 L717.30,92.99 L719.75,92.66 L722.20,92.32 L724.66,91.99 L727.13,91.65 L729.61,91.31 L732.10,90.98 L734.60,90.64 L737.11,90.31 L739.63,89.97 L742.15,89.63 L744.69,89.30 L747.24,88.96 L749.79,88.62 L752.36,88.29 L754.93,87.95 L757.52,87.61 L760.11,87.28 L762.71,86.94 L765.33,86.60 L767.95,86.26 L770.58,85.92 L773.23,85.58 L775.88,85.24 L778.54,84.90 L781.21,84.56 L783.90,84.22 L786.59,83.88 L789.29,83.54 L792.01,83.20 L794.73,82.86 L797.46,82.52 L800.21,82.17 L802.96,81.83 L805.73,81.49 L808.50,81.14 L811.29,80.80 L814.08,80.45 L816.89,80.11 L819.71,79.76 L822.53,79.42 L825.37,79.07 L828.22,78.72 L831.08,78.37 L833.95,78.03 L836.83,77.68 L839.72,77.33 L842.62,76.98 L845.54,76.62 L848.46,76.27 L851.40,75.92 L854.34,75.57 L857.30,75.21 L860.27,74.86 L863.25,74.50 L866.24,74.15 L869.24,73.79 L872.25,73.43 L875.28,73.07 L878.31,72.71 L881.36,72.35 L884.42,71.99 L887.49,71.63 L890.57,71.27 L893.66,70.90 L896.77,70.54 L899.88,70.17 L903.01,69.81 L906.15,69.44 L909.30,69.07 L912.47,68.70 L915.64,68.33 L918.83,67.96 L922.03,67.59 L925.24,67.21 L928.46,66.84 L931.70,66.46 L934.94,66.09 L938.20,65.71 L941.48,65.33 L944.76,64.95 L948.06,64.57 L951.36,64.18 L954.69,63.80 L958.02,63.42 L961.37,63.03 L964.72,62.64 L968.10,62.25 L971.48,61.86 L974.88,61.47 L978.28,61.08 L981.71,60.68 L985.14,60.29 L988.59,59.89 L992.05,59.49 L995.52,59.09"/>
</g>
<g stroke="#666666" stroke-width="1.65" fill="none" stroke-linecap="butt">
<rect x="127.3" y="1.28" width="864.65" height="534.72"/>
<path d="M158.47,536.0 v-6.2 M158.47,1.28 v6.2 M189.33,536.0 v-10.4 M189.33,1.28 v10.4 M220.19,536.0 v-6.2 M220.19,1.28 v6.2 M251.06,536.0 v-6.2 M251.06,1.28 v6.2 M281.92,536.0 v-6.2 M281.92,1.28 v6.2 M312.79,536.0 v-10.4 M312.79,1.28 v10.4 M343.65,536.0 v-6.2 M343.65,1.28 v6.2 M374.52,536.0 v-6.2 M374.52,1.28 v6.2 M405.38,536.0 v-6.2 M405.38,1.28 v6.2 M436.25,536.0 v-10.4 M436.25,1.28 v10.4 M467.12,536.0 v-6.2 M467.12,1.28 v6.2 M497.98,536.0 v-6.2 M497.98,1.28 v6.2 M528.85,536.0 v-6.2 M528.85,1.28 v6.2 M559.71,536.0 v-10.4 M559.71,1.28 v10.4 M590.58,536.0 v-6.2 M590.58,1.28 v6.2 M621.44,536.0 v-6.2 M621.44,1.28 v6.2 M652.31,536.0 v-6.2 M652.31,1.28 v6.2 M683.17,536.0 v-10.4 M683.17,1.28 v10.4 M714.03,536.0 v-6.2 M714.03,1.28 v6.2 M744.90,536.0 v-6.2 M744.90,1.28 v6.2 M775.76,536.0 v-6.2 M775.76,1.28 v6.2 M806.63,536.0 v-10.4 M806.63,1.28 v10.4 M837.49,536.0 v-6.2 M837.49,1.28 v6.2 M868.36,536.0 v-6.2 M868.36,1.28 v6.2 M899.23,536.0 v-6.2 M899.23,1.28 v6.2 M930.09,536.0 v-10.4 M930.09,1.28 v10.4 M960.96,536.0 v-6.2 M960.96,1.28 v6.2 M991.82,536.0 v-6.2 M991.82,1.28 v6.2 M127.3,507.85 h6.2 M991.95,507.85 h-6.2 M127.3,479.71 h6.2 M991.95,479.71 h-6.2 M127.3,451.57 h6.2 M991.95,451.57 h-6.2 M127.3,423.42 h6.2 M991.95,423.42 h-6.2 M127.3,395.28 h10.4 M991.95,395.28 h-10.4 M127.3,367.14 h6.2 M991.95,367.14 h-6.2 M127.3,338.99 h6.2 M991.95,338.99 h-6.2 M127.3,310.85 h6.2 M991.95,310.85 h-6.2 M127.3,282.71 h6.2 M991.95,282.71 h-6.2 M127.3,254.56 h10.4 M991.95,254.56 h-10.4 M127.3,226.42 h6.2 M991.95,226.42 h-6.2 M127.3,198.28 h6.2 M991.95,198.28 h-6.2 M127.3,170.14 h6.2 M991.95,170.14 h-6.2 M127.3,141.99 h6.2 M991.95,141.99 h-6.2 M127.3,113.85 h10.4 M991.95,113.85 h-10.4 M127.3,85.71 h6.2 M991.95,85.71 h-6.2 M127.3,57.56 h6.2 M991.95,57.56 h-6.2 M127.3,29.42 h6.2 M991.95,29.42 h-6.2 M127.3,1.28 h6.2 M991.95,1.28 h-6.2"/>
</g>
<g style="will-change:transform;opacity:0.999">
<text transform="translate(119.50,120.65) scale(0.96,1)" text-anchor="end" style="font-size:27.7px;letter-spacing:0.6px;fill:#666666;stroke:#666666;stroke-width:0.25px">0.0</text>
<text transform="translate(119.50,261.37) scale(0.96,1)" text-anchor="end" style="font-size:27.7px;letter-spacing:0.6px;fill:#666666;stroke:#666666;stroke-width:0.25px"><tspan dx="-0.4" dy="2.3">−</tspan><tspan dx="0.4" dy="-2.3">0.5</tspan></text>
<text transform="translate(119.50,402.08) scale(0.96,1)" text-anchor="end" style="font-size:27.7px;letter-spacing:0.6px;fill:#666666;stroke:#666666;stroke-width:0.25px"><tspan dx="-0.4" dy="2.3">−</tspan><tspan dx="0.4" dy="-2.3"><tspan style="fill:none;stroke:none">1</tspan>.0</tspan></text>
<path d="M90.60,402.08 L88.03,402.08 L88.03,387.12 Q87.10,387.93 85.60,388.74 Q84.10,389.55 82.90,389.95 L82.90,387.68 Q85.05,386.76 86.66,385.44 Q88.28,384.12 88.94,382.88 L90.60,382.88 Z" fill="#666666" stroke="#666666" stroke-width="0.25"/>
<text transform="translate(119.50,542.79) scale(0.96,1)" text-anchor="end" style="font-size:27.7px;letter-spacing:0.6px;fill:#666666;stroke:#666666;stroke-width:0.25px"><tspan dx="-0.4" dy="2.3">−</tspan><tspan dx="0.4" dy="-2.3"><tspan style="fill:none;stroke:none">1</tspan>.5</tspan></text>
<path d="M90.60,542.79 L88.03,542.79 L88.03,527.83 Q87.10,528.64 85.60,529.45 Q84.10,530.26 82.90,530.67 L82.90,528.39 Q85.05,527.47 86.66,526.15 Q88.28,524.83 88.94,523.59 L90.60,523.59 Z" fill="#666666" stroke="#666666" stroke-width="0.25"/>
<text transform="translate(189.58,569.10) scale(0.96,1)" text-anchor="middle" style="font-size:27.7px;letter-spacing:0.5px;fill:#666666;stroke:#666666;stroke-width:0.25px">0.2</text>
<text transform="translate(313.04,569.10) scale(0.96,1)" text-anchor="middle" style="font-size:27.7px;letter-spacing:0.5px;fill:#666666;stroke:#666666;stroke-width:0.25px">0.4</text>
<text transform="translate(436.50,569.10) scale(0.96,1)" text-anchor="middle" style="font-size:27.7px;letter-spacing:0.5px;fill:#666666;stroke:#666666;stroke-width:0.25px">0.6</text>
<text transform="translate(559.96,569.10) scale(0.96,1)" text-anchor="middle" style="font-size:27.7px;letter-spacing:0.5px;fill:#666666;stroke:#666666;stroke-width:0.25px">0.8</text>
<text transform="translate(683.42,569.10) scale(0.96,1)" text-anchor="middle" style="font-size:27.7px;letter-spacing:0.5px;fill:#666666;stroke:#666666;stroke-width:0.25px"><tspan style="fill:none;stroke:none">1</tspan>.0</text>
<path d="M674.87,569.20 L672.20,569.20 L672.20,554.01 Q671.24,554.83 669.68,555.65 Q668.11,556.47 666.87,556.88 L666.87,554.58 Q669.11,553.64 670.78,552.30 Q672.46,550.96 673.15,549.70 L674.87,549.70 Z" fill="#666666" stroke="#666666" stroke-width="0.25"/>
<text transform="translate(806.88,569.10) scale(0.96,1)" text-anchor="middle" style="font-size:27.7px;letter-spacing:0.5px;fill:#666666;stroke:#666666;stroke-width:0.25px"><tspan style="fill:none;stroke:none">1</tspan>.2</text>
<path d="M798.33,569.20 L795.66,569.20 L795.66,554.01 Q794.70,554.83 793.14,555.65 Q791.57,556.47 790.33,556.88 L790.33,554.58 Q792.57,553.64 794.24,552.30 Q795.92,550.96 796.61,549.70 L798.33,549.70 Z" fill="#666666" stroke="#666666" stroke-width="0.25"/>
<text transform="translate(930.34,569.10) scale(0.96,1)" text-anchor="middle" style="font-size:27.7px;letter-spacing:0.5px;fill:#666666;stroke:#666666;stroke-width:0.25px"><tspan style="fill:none;stroke:none">1</tspan>.4</text>
<path d="M921.79,569.20 L919.12,569.20 L919.12,554.01 Q918.16,554.83 916.60,555.65 Q915.03,556.47 913.79,556.88 L913.79,554.58 Q916.03,553.64 917.70,552.30 Q919.38,550.96 920.07,549.70 L921.79,549.70 Z" fill="#666666" stroke="#666666" stroke-width="0.25"/>
<text transform="translate(558.90,633.00) scale(1.06,1)" text-anchor="middle" style="font-size:38.0px;letter-spacing:0px;fill:#666666;stroke:#666666;stroke-width:0.25px">d</text>
</g>
<path d="M14.45,260.27 C14.01,260.32 12.68,260.07 11.83,260.59 C10.98,261.11 9.86,262.14 9.34,263.39 C8.82,264.63 8.57,266.45 8.72,268.06 C8.88,269.67 9.39,271.80 10.27,273.04 C11.15,274.29 12.82,275.27 14.01,275.53 C15.20,275.79 16.50,275.33 17.43,274.60 C18.36,273.87 19.17,272.73 19.61,271.17 C20.05,269.61 19.98,266.25 20.05,265.26" fill="none" stroke="#666666" stroke-width="3.0" stroke-linecap="butt" stroke-linejoin="round"/>
<path d="M20.05,265.26 C20.13,266.25 20.05,269.25 20.55,271.17 C21.05,273.09 21.90,275.26 23.04,276.77 C24.18,278.27 26.05,279.58 27.40,280.20 C28.75,280.82 29.88,280.97 31.13,280.50 C32.38,280.03 33.93,278.95 34.87,277.40 C35.80,275.84 36.59,273.25 36.74,271.17 C36.90,269.09 36.42,266.70 35.80,264.94 C35.18,263.18 34.19,261.63 33.00,260.59 C31.81,259.55 29.89,258.93 28.64,258.72 C27.39,258.51 26.31,258.95 25.53,259.34 C24.75,259.73 24.23,260.79 23.97,261.08" fill="none" stroke="#666666" stroke-width="3.0" stroke-linecap="butt" stroke-linejoin="round"/>
<g style="will-change:transform;opacity:0.999">
<path d="M775.9,283.90 H828.7" stroke="#5e81b5" stroke-width="4.65" fill="none"/>
<path fill="#000" d="M852.02,273.88 L857.12,266.09 L860.24,266.09 L865.22,273.88 L862.54,273.88 L858.68,268.71 L854.82,273.88Z"/>
<text transform="translate(850.60,296.10) scale(0.95,1)" text-anchor="start" style="font-size:32.0px;letter-spacing:0px;fill:#000;stroke:#000;stroke-width:0.25px"><tspan font-style="italic">v</tspan></text>
<path fill="#000" d="M868.9,282.35 h15.7 v2.9 h-15.7Z M868.9,289.55 h15.7 v2.9 h-15.7Z"/>
<path fill="#000" d="M888.2,285.90 h15.8 v2.9 h-15.8Z"/>
<text transform="translate(906.00,296.10) scale(0.93,1)" text-anchor="start" style="font-size:34.2px;letter-spacing:0.75px;fill:#000;stroke:#000;stroke-width:0.25px">0.99</text>
<path d="M775.9,353.10 H828.7" stroke="#e19c24" stroke-width="4.65" fill="none"/>
<path fill="#000" d="M852.02,343.08 L857.12,335.29 L860.24,335.29 L865.22,343.08 L862.54,343.08 L858.68,337.91 L854.82,343.08Z"/>
<text transform="translate(850.60,365.30) scale(0.95,1)" text-anchor="start" style="font-size:32.0px;letter-spacing:0px;fill:#000;stroke:#000;stroke-width:0.25px"><tspan font-style="italic">v</tspan></text>
<path fill="#000" d="M868.9,351.55 h15.7 v2.9 h-15.7Z M868.9,358.75 h15.7 v2.9 h-15.7Z"/>
<path fill="#000" d="M888.2,355.10 h15.8 v2.9 h-15.8Z"/>
<text transform="translate(906.00,365.30) scale(0.93,1)" text-anchor="start" style="font-size:34.2px;letter-spacing:0.75px;fill:#000;stroke:#000;stroke-width:0.25px">0.8</text>
<path d="M775.9,422.30 H828.7" stroke="#8fb032" stroke-width="4.65" fill="none"/>
<path fill="#000" d="M852.02,412.28 L857.12,404.49 L860.24,404.49 L865.22,412.28 L862.54,412.28 L858.68,407.11 L854.82,412.28Z"/>
<text transform="translate(850.60,434.50) scale(0.95,1)" text-anchor="start" style="font-size:32.0px;letter-spacing:0px;fill:#000;stroke:#000;stroke-width:0.25px"><tspan font-style="italic">v</tspan></text>
<path fill="#000" d="M868.9,420.75 h15.7 v2.9 h-15.7Z M868.9,427.95 h15.7 v2.9 h-15.7Z"/>
<text transform="translate(886.60,434.50) scale(0.93,1)" text-anchor="start" style="font-size:34.2px;letter-spacing:0.75px;fill:#000;stroke:#000;stroke-width:0.25px">0.8</text>
<path d="M775.9,491.50 H828.7" stroke="#eb6235" stroke-width="4.65" fill="none"/>
<path fill="#000" d="M852.02,481.48 L857.12,473.69 L860.24,473.69 L865.22,481.48 L862.54,481.48 L858.68,476.31 L854.82,481.48Z"/>
<text transform="translate(850.60,503.70) scale(0.95,1)" text-anchor="start" style="font-size:32.0px;letter-spacing:0px;fill:#000;stroke:#000;stroke-width:0.25px"><tspan font-style="italic">v</tspan></text>
<path fill="#000" d="M868.9,489.95 h15.7 v2.9 h-15.7Z M868.9,497.15 h15.7 v2.9 h-15.7Z"/>
<path d="M899.06,503.80 L896.01,503.80 L896.01,485.18 Q894.90,486.18 893.11,487.19 Q891.32,488.20 889.90,488.70 L889.90,485.88 Q892.46,484.72 894.38,483.09 Q896.29,481.44 897.09,479.90 L899.06,479.90 Z" fill="#000" stroke="#000" stroke-width="0.25"/>
</g>
</svg></body></html>
